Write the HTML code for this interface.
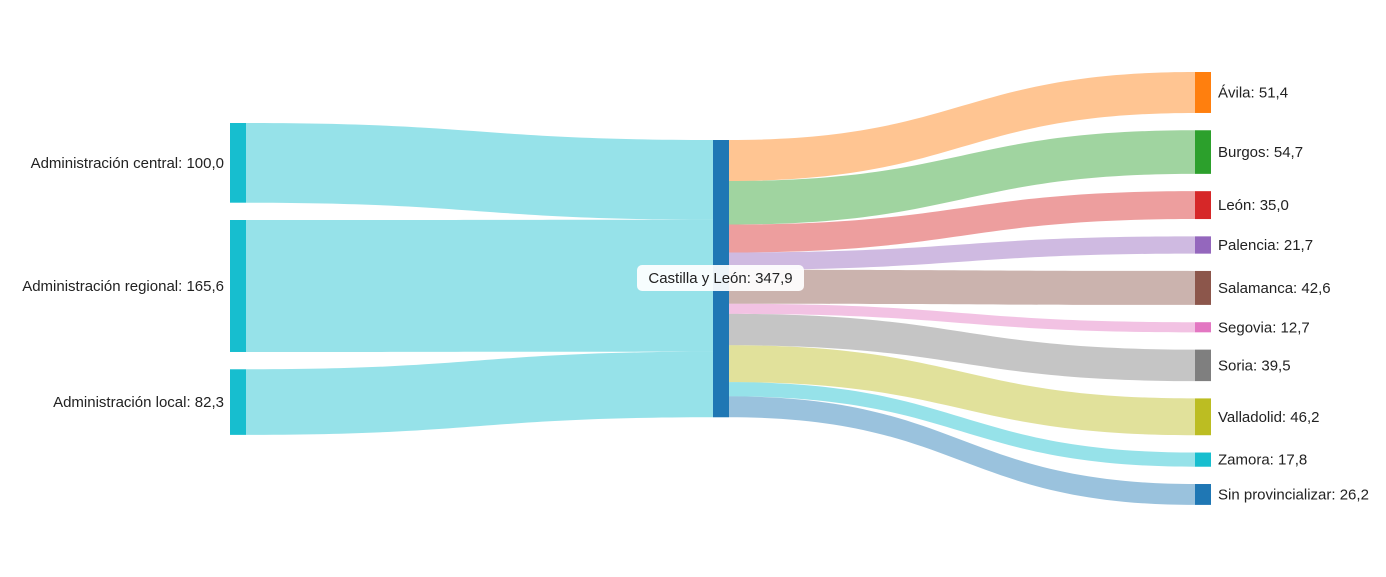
<!DOCTYPE html>
<html><head><meta charset="utf-8">
<style>
html,body{margin:0;padding:0;background:#fff;}
svg{display:block;font-family:"Liberation Sans",Arial,sans-serif;}
</style></head>
<body>
<svg id="chart" width="1386" height="577" viewBox="0 0 1386 577"></svg>
<script>
const sourceNames = ["Administración central","Administración regional","Administración local"];
const sourceValues = [100.0,165.6,82.3];
const hubName = "Castilla y León";
const targetNames = ["Ávila","Burgos","León","Palencia","Salamanca","Segovia","Soria","Valladolid","Zamora","Sin provincializar"];
const targetValues = [51.4,54.7,35.0,21.7,42.6,12.7,39.5,46.2,17.8,26.2];
const targetColors = ["#ff7f0e","#2ca02c","#d62728","#9467bd","#8c564b","#e377c2","#7f7f7f","#bcbd22","#17becf","#1f77b4"];

const svg = document.getElementById('chart');
const NS = "http://www.w3.org/2000/svg";
const k = 0.797, gap = 17.3, nodeW = 16;
const xL = 230, xM = 713, xR = 1195;
const fmt = v => v.toFixed(1).replace('.', ',');
function mk(tag, attrs){const e=document.createElementNS(NS,tag);for(const a in attrs)e.setAttribute(a,attrs[a]);svg.appendChild(e);return e;}
function link(x0,y0a,y0b,x1,y1a,y1b,color,op){
  const mx=(x0+x1)/2;
  const d=`M${x0},${y0a}C${mx},${y0a} ${mx},${y1a} ${x1},${y1a}L${x1},${y1b}C${mx},${y1b} ${mx},${y0b} ${x0},${y0b}Z`;
  return mk('path',{d:d,fill:color,'fill-opacity':op});
}
const total = sourceValues.reduce((a,b)=>a+b,0);
const hubTop = 140;
const leftTop = hubTop + total*k/2 - (total*k + gap*(sourceValues.length-1))/2 + 0;
const rightTop = 72;
// left links & nodes
let yl = 123, yh = hubTop;
sourceValues.forEach((v,i)=>{
  const h=v*k;
  const p=link(xL+nodeW,yl,yl+h,xM,yh,yh+h,"#17becf",0.45);
   
  const r=mk('rect',{x:xL,y:yl,width:nodeW,height:h,fill:"#17becf"});
   
  const t=mk('text',{x:xL-6,y:yl+h/2+5,'text-anchor':'end','font-size':15,fill:'#222'});
  t.textContent=sourceNames[i]+": "+fmt(v);
   
  yl+=h+gap; yh+=h;
});
// right links & nodes
let yr = rightTop; yh = hubTop;
targetValues.forEach((v,i)=>{
  const h=v*k;
  const p=link(xM+nodeW,yh,yh+h,xR,yr,yr+h,targetColors[i],0.45);
   
  const r=mk('rect',{x:xR,y:yr,width:nodeW,height:h,fill:targetColors[i]});
   
  const t=mk('text',{x:xR+nodeW+7,y:yr+h/2+5,'font-size':15,fill:'#222'});
  t.textContent=targetNames[i]+": "+fmt(targetValues[i]);
   
  yr+=h+gap; yh+=h;
});
// hub
const hubH = total*k;
const hub=mk('rect',{x:xM,y:hubTop,width:nodeW,height:hubH,fill:"#1f77b4"});
 
const bg=mk('rect',{x:637,y:265,width:167,height:26,rx:5,fill:'#fff','fill-opacity':0.92});
 
const ht=mk('text',{x:720.5,y:283,'text-anchor':'middle','font-size':15,fill:'#222'});
ht.textContent=hubName+": "+fmt(total);
 
</script>
</body></html>
